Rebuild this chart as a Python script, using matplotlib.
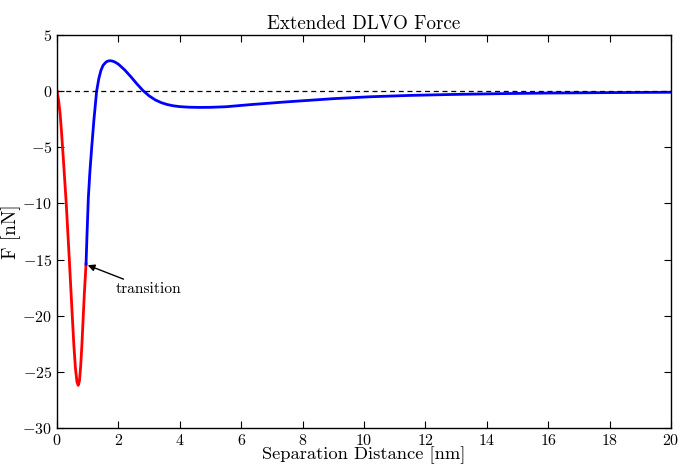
import matplotlib
matplotlib.use("Agg")
import matplotlib.pyplot as plt

plt.rcParams['font.family'] = 'serif'
plt.rcParams['font.serif'] = ['cmr10']
plt.rcParams['mathtext.fontset'] = 'cm'
plt.rcParams['axes.formatter.use_mathtext'] = True

# red branch (short range)
x_red = [0, 0.05, 0.1, 0.15, 0.2, 0.25, 0.3, 0.35, 0.4, 0.45, 0.5, 0.55,
         0.6, 0.65, 0.69, 0.73, 0.77, 0.81, 0.85, 0.89, 0.945]
f_red = [0, -0.8, -2.0, -3.8, -5.8, -7.9, -10, -12.5, -15, -17.6, -20.2, -22.7,
         -24.7, -25.9, -26.2, -25.8, -24.5, -22.6, -20.3, -18.0, -15.4]

# blue branch (long range)
x_blue = [0.945, 0.98, 1.02, 1.07, 1.13, 1.2, 1.29, 1.36, 1.43, 1.5, 1.6, 1.66,
          1.73, 1.8, 1.88, 2.0, 2.2, 2.4, 2.6, 2.8, 3.0, 3.2, 3.4, 3.6,
          3.8, 4.0, 4.3, 4.66, 5.0, 5.5, 6.3, 7.5, 9.0, 10.2, 11.5, 12.8,
          14.5, 16.0, 18.0, 20.0]
f_blue = [-15.4, -12.5, -9.5, -7.2, -5.0, -2.6, 0, 1.1, 1.85, 2.3, 2.6, 2.68,
          2.71, 2.68, 2.6, 2.4, 1.9, 1.3, 0.65, 0.05, -0.42, -0.78, -1.03, -1.2,
          -1.31, -1.38, -1.43, -1.45, -1.44, -1.39, -1.2, -0.95, -0.67, -0.5,
          -0.38, -0.3, -0.22, -0.17, -0.13, -0.1]

fig = plt.figure(figsize=(6.83, 4.66), dpi=100)
ax = fig.add_axes([0.0835, 0.0815, 0.899, 0.8434])

ax.plot(x_red, f_red, color='red', lw=2)
ax.plot(x_blue, f_blue, color='blue', lw=2)
ax.axhline(0, color='black', ls='--', lw=0.9, dashes=(4, 3))

ax.annotate('transition', xy=(1.0, -15.5), xytext=(1.9, -17.6),
            fontsize=11.2, va='center', ha='left',
            arrowprops=dict(arrowstyle='-|>', color='black', lw=1,
                            mutation_scale=10, shrinkA=0, shrinkB=0))

ax.set_xlim(0, 20)
ax.set_ylim(-30, 5)
ax.set_xticks(range(0, 21, 2))
ax.set_yticks(range(-30, 6, 5))
ax.tick_params(direction='in', top=True, right=True, labelsize=11.5, length=5)
for s in ax.spines.values():
    s.set_linewidth(1)

ax.set_title('Extended DLVO Force', fontsize=13.7, pad=4)
ax.set_xlabel('Separation Distance [nm]', fontsize=13.3, labelpad=-1)
ax.set_ylabel('F [nN]', fontsize=13.8, labelpad=1)

fig.savefig('out.png', dpi=100)
